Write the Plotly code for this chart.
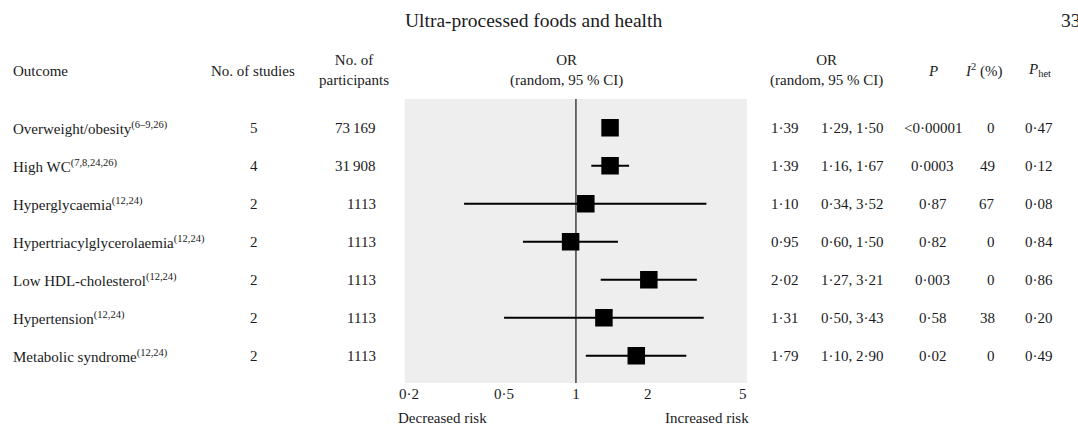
import plotly.graph_objects as go

# ---------------- data ----------------
outcomes = ["Overweight/obesity", "High WC", "Hyperglycaemia", "Hypertriacylglycerolaemia",
            "Low HDL-cholesterol", "Hypertension", "Metabolic syndrome"]
refs = ["(6–9,26)", "(7,8,24,26)", "(12,24)", "(12,24)", "(12,24)", "(12,24)", "(12,24)"]
n_studies = [5, 4, 2, 2, 2, 2, 2]
n_participants = [73169, 31908, 1113, 1113, 1113, 1113, 1113]
or_est = [1.39, 1.39, 1.10, 0.95, 2.02, 1.31, 1.79]
ci_low = [1.29, 1.16, 0.34, 0.60, 1.27, 0.50, 1.10]
ci_high = [1.50, 1.67, 3.52, 1.50, 3.21, 3.43, 2.90]
p_values = ["<0.00001", "0.0003", "0.87", "0.82", "0.003", "0.58", "0.02"]
i2 = [0, 49, 67, 0, 0, 38, 0]
p_het = ["0.47", "0.12", "0.08", "0.84", "0.86", "0.20", "0.49"]
tick_vals = [0.2, 0.5, 1, 2, 5]

# ---------------- helpers ----------------
W, H = 1078, 426
FONT = "Liberation Serif"
TXT = "#1a1a22"
ROW_FS = 15
HDR_FS = 15


def dot(s):
    return str(s).replace(".", "·")


def fmt2(v):
    return dot(f"{v:.2f}")


def fmt_n(n):
    if n >= 10000:
        return f"{n:,}".replace(",", "\u2009")
    return str(n)


def px(x):
    return x / W


def py(y):
    return 1 - y / H


rows = list(range(len(outcomes)))

fig = go.Figure()

# CI lines
xs, ys = [], []
for i in rows:
    xs += [ci_low[i], ci_high[i], None]
    ys += [i, i, None]
fig.add_trace(go.Scatter(x=xs, y=ys, mode="lines", line=dict(color="black", width=2),
                         hoverinfo="skip", showlegend=False))
# point estimates
fig.add_trace(go.Scatter(x=or_est, y=rows, mode="markers",
                         marker=dict(symbol="square", size=17.5, color="black"),
                         showlegend=False))

# reference line at OR = 1
fig.add_shape(type="line", xref="x", yref="paper", x0=1, x1=1,
              y0=py(383), y1=py(99), line=dict(color="#4d4d4d", width=1.6), layer="below")

ann = []


def add(x, y, text, xanchor="center", size=ROW_FS, yref="paper", yanchor="middle"):
    ann.append(dict(x=x, y=y, xref="paper", yref=yref, text=text, showarrow=False,
                    xanchor=xanchor, yanchor=yanchor,
                    font=dict(family=FONT, size=size, color=TXT)))


# title & page number
add(px(530), py(20), "Ultra-processed foods and health", size=19.5)
add(px(1059), py(20), "33", xanchor="left", size=19.5)

# headers
add(px(5), py(71), "Outcome", xanchor="left", size=HDR_FS)
add(px(248), py(71), "No. of studies", size=HDR_FS)
add(px(350), py(70), "No. of<br>participants", size=HDR_FS)
add(px(564), py(70), "OR<br>(random, 95 % CI)", size=HDR_FS)
add(px(825), py(70), "OR<br>(random, 95 % CI)", size=HDR_FS)
add(px(932), py(71), "<i>P</i>", size=HDR_FS)
add(px(983), py(71), "<i>I</i><sup>2</sup> (%)", size=HDR_FS)
add(px(1039), py(70), "<i>P</i><sub>het</sub>", size=HDR_FS)

# rows
for i in rows:
    add(px(5), i, f"{outcomes[i]}<sup>{refs[i]}</sup>", xanchor="left", yref="y")
    add(px(249), i, str(n_studies[i]), yref="y")
    add(px(374), i, fmt_n(n_participants[i]), xanchor="right", yref="y")
    add(px(783), i, fmt2(or_est[i]), yref="y")
    add(px(851), i, f"{fmt2(ci_low[i])}, {fmt2(ci_high[i])}", yref="y")
    add(px(932), i, dot(p_values[i]), yref="y")
    add(px(997), i, str(i2[i]), xanchor="right", yref="y")
    add(px(1039), i, dot(p_het[i]), yref="y")

# bottom labels
add(px(392), py(418), "Decreased risk", xanchor="left", size=HDR_FS)
add(px(749), py(418), "Increased risk", xanchor="right", size=HDR_FS)

fig.update_layout(
    width=W, height=H,
    margin=dict(l=0, r=0, t=0, b=0),
    paper_bgcolor="white",
    plot_bgcolor="#eeeeee",
    annotations=ann,
    showlegend=False,
    xaxis=dict(type="log", domain=[px(401), px(745)], range=[-0.717, 0.716],
               tickvals=tick_vals, ticktext=[dot(v) for v in tick_vals],
               showgrid=False, zeroline=False, showline=False, ticks="",
               tickfont=dict(family=FONT, size=15, color=TXT), fixedrange=True),
    yaxis=dict(domain=[py(383), py(99)], range=[6.72, -0.756], visible=False,
               showgrid=False, zeroline=False, fixedrange=True),
)

fig.write_html("out.html", config={"displayModeBar": False},
               post_script="document.body.style.margin='0';document.body.style.padding='0';")
